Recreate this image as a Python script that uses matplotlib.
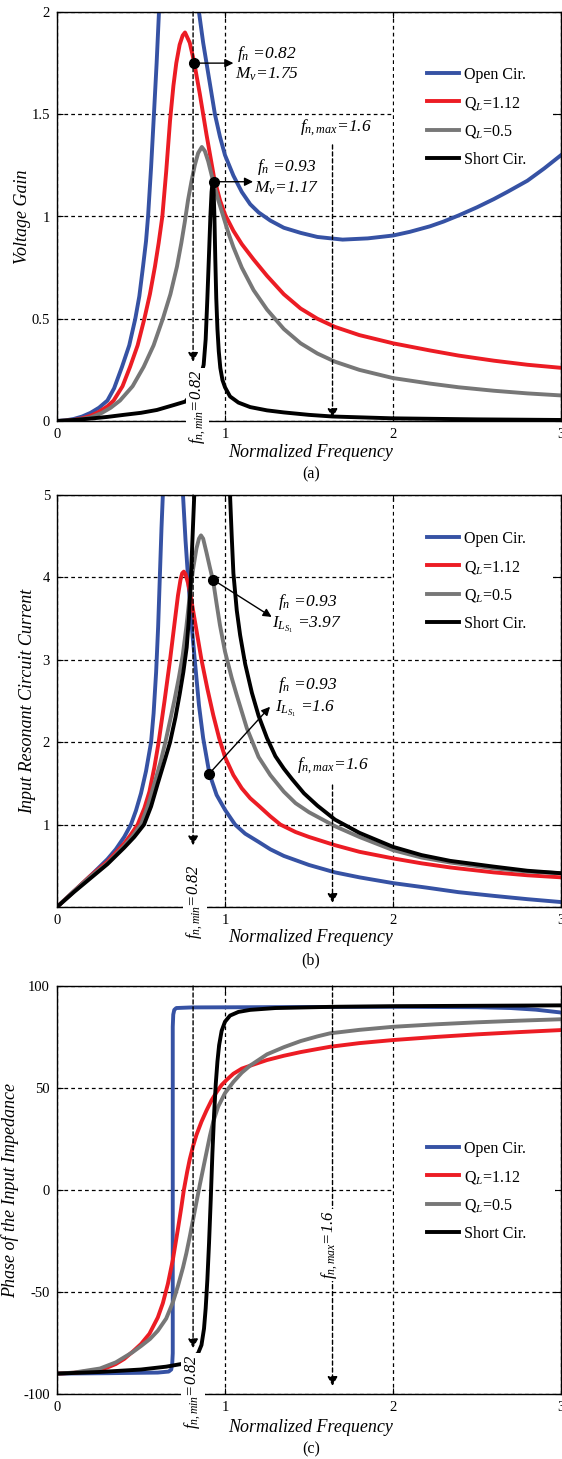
import matplotlib.pyplot as plt
from matplotlib.patches import Rectangle

plt.rcParams['font.family'] = ['Liberation Serif', 'DejaVu Serif']
plt.rcParams['mathtext.fontset'] = 'custom'
plt.rcParams['mathtext.rm'] = 'Liberation Serif'
plt.rcParams['mathtext.it'] = 'Liberation Serif:italic'
plt.rcParams['mathtext.bf'] = 'Liberation Serif:bold'

W, H = 562, 1459

names = ['Open Cir.', 'Q$_L$=1.12', 'Q$_L$=0.5', 'Short Cir.']
colors = ['#3652a4', '#ec1c24', '#777777', '#000000']

# ---------- (a) voltage gain ----------
a_open_f = [0, 0.05, 0.1, 0.15, 0.2, 0.25, 0.3, 0.34, 0.387, 0.43, 0.466, 0.49, 0.512, 0.53, 0.542, 0.56,
            0.577, 0.593, 0.607, 0.62, 0.70,
            0.83, 0.845, 0.87, 0.9, 0.94, 0.97, 1.0, 1.05, 1.1, 1.15, 1.2, 1.27, 1.35, 1.45, 1.55, 1.7, 1.85,
            2.0, 2.1, 2.22, 2.3, 2.39, 2.5, 2.6, 2.68, 2.8, 2.9, 3.0]
a_open_v = [0, 0.003, 0.01, 0.022, 0.04, 0.065, 0.10, 0.16, 0.265, 0.37, 0.5, 0.61, 0.755, 0.88, 1.0, 1.24,
            1.5, 1.75, 2.0, 2.25, 6.0,
            2.3, 2.0, 1.85, 1.7, 1.5, 1.39, 1.30, 1.2, 1.12, 1.06, 1.02, 0.98, 0.945, 0.92, 0.90, 0.887, 0.893,
            0.907, 0.925, 0.952, 0.975, 1.005, 1.045, 1.085, 1.12, 1.175, 1.235, 1.30]
a_q112_f = [0, 0.05, 0.1, 0.15, 0.2, 0.25, 0.3, 0.337, 0.39, 0.435, 0.48, 0.52, 0.553, 0.583, 0.605, 0.627,
            0.65, 0.673, 0.693, 0.71, 0.73, 0.748, 0.762, 0.79, 0.815, 0.85, 0.89, 0.935, 0.97, 1.0, 1.05,
            1.1, 1.17, 1.25, 1.35, 1.45, 1.55, 1.655, 1.8, 2.0, 2.22, 2.39, 2.6, 2.8, 3.0]
a_q112_v = [0, 0.001, 0.005, 0.013, 0.025, 0.045, 0.072, 0.10, 0.17, 0.265, 0.37, 0.5, 0.62, 0.755, 0.87, 1.0,
            1.22, 1.47, 1.64, 1.75, 1.84, 1.885, 1.90, 1.85, 1.76, 1.60, 1.40, 1.19, 1.08, 1.01, 0.93,
            0.865, 0.79, 0.71, 0.62, 0.55, 0.50, 0.46, 0.42, 0.38, 0.345, 0.32, 0.295, 0.275, 0.26]
a_q05_f = [0, 0.1, 0.2, 0.268, 0.32, 0.375, 0.45, 0.516, 0.575, 0.63, 0.675, 0.714, 0.74, 0.76, 0.78, 0.8,
           0.82, 0.84, 0.862, 0.88, 0.9, 0.93, 0.96, 0.99, 1.02, 1.05, 1.1, 1.17, 1.25, 1.35, 1.45, 1.55,
           1.655, 1.8, 2.0, 2.22, 2.39, 2.6, 2.8, 3.0]
a_q05_v = [0, 0.003, 0.017, 0.04, 0.065, 0.10, 0.17, 0.265, 0.37, 0.5, 0.62, 0.755, 0.87, 0.97, 1.08, 1.17,
           1.25, 1.31, 1.34, 1.32, 1.27, 1.17, 1.08, 1.0, 0.92, 0.85, 0.75, 0.64, 0.545, 0.45, 0.38, 0.33,
           0.29, 0.25, 0.21, 0.183, 0.165, 0.148, 0.135, 0.125]
a_short_f = [0, 0.1, 0.2, 0.3, 0.397, 0.5, 0.595, 0.695, 0.764, 0.82, 0.85, 0.873, 0.885, 0.895, 0.905,
             0.913, 0.92, 0.926, 0.932, 0.937, 0.942, 0.948, 0.955, 0.963, 0.972, 0.985, 1.0, 1.03, 1.08,
             1.15, 1.25, 1.35, 1.5, 1.64, 2.0, 2.5, 3.0]
a_short_v = [0, 0.005, 0.012, 0.02, 0.03, 0.04, 0.054, 0.078, 0.095, 0.15, 0.2, 0.275, 0.4, 0.6, 0.82,
             1.0, 1.12, 1.17, 1.13, 1.0, 0.8, 0.6, 0.45, 0.34, 0.26, 0.2, 0.165, 0.12, 0.09,
             0.068, 0.052, 0.042, 0.03, 0.022, 0.013, 0.008, 0.005]
a_dot_f = [0.815, 0.935]
a_dot_v = [1.75, 1.17]

# ---------- (b) input resonant circuit current ----------
b_open_f = [0, 0.1, 0.2, 0.3, 0.35, 0.4, 0.44, 0.47, 0.5, 0.53, 0.56, 0.575, 0.59, 0.602, 0.612, 0.622, 0.63,
            0.69, 0.75, 0.765, 0.78, 0.8, 0.82, 0.845, 0.87, 0.907, 0.95, 1.0, 1.06, 1.12, 1.2, 1.27, 1.35,
            1.5, 1.655, 1.8, 2.0, 2.2, 2.39, 2.6, 2.8, 3.0]
b_open_i = [0, 0.19, 0.38, 0.58, 0.7, 0.85, 1.0, 1.17, 1.38, 1.65, 2.0, 2.35, 2.85, 3.4, 4.0, 4.6, 5.0,
            12.0, 5.0, 4.45, 4.0, 3.45, 3.0, 2.45, 2.05, 1.62, 1.36, 1.18, 1.0, 0.89, 0.79, 0.7, 0.62,
            0.51, 0.42, 0.36, 0.29, 0.235, 0.18, 0.135, 0.095, 0.06]
b_q112_f = [0, 0.1, 0.2, 0.3, 0.4, 0.44, 0.48, 0.52, 0.55, 0.58, 0.605, 0.64, 0.673, 0.7, 0.72, 0.735, 0.745,
            0.755, 0.765, 0.78, 0.795, 0.81, 0.835, 0.86, 0.895, 0.93, 0.965, 1.0, 1.05, 1.1, 1.15, 1.2,
            1.27, 1.33, 1.42, 1.5, 1.655, 1.8, 2.0, 2.17, 2.34, 2.6, 2.8, 3.0]
b_q112_i = [0, 0.19, 0.38, 0.55, 0.77, 0.88, 1.0, 1.2, 1.4, 1.7, 2.0, 2.5, 3.0, 3.45, 3.78, 3.97, 4.05,
            4.07, 4.04, 3.93, 3.78, 3.6, 3.3, 3.0, 2.65, 2.33, 2.05, 1.82, 1.6, 1.44, 1.32, 1.23,
            1.1, 1.0, 0.91, 0.85, 0.75, 0.67, 0.59, 0.53, 0.48, 0.42, 0.385, 0.36]
b_q05_f = [0, 0.1, 0.2, 0.3, 0.4, 0.45, 0.5, 0.54, 0.58, 0.615, 0.645, 0.675, 0.7, 0.725, 0.748, 0.77, 0.79,
           0.81, 0.83, 0.845, 0.857, 0.87, 0.89, 0.91, 0.93, 0.95, 0.97, 1.0, 1.04, 1.07, 1.13, 1.2, 1.27,
           1.35, 1.42, 1.5, 1.655, 1.8, 2.0, 2.17, 2.34, 2.6, 2.8, 3.0]
b_q05_i = [0, 0.19, 0.37, 0.53, 0.74, 0.86, 1.0, 1.22, 1.5, 1.75, 2.0, 2.28, 2.52, 2.78, 3.05, 3.4, 3.78,
           4.1, 4.35, 4.47, 4.51, 4.47, 4.3, 4.12, 3.95, 3.68, 3.42, 3.1, 2.78, 2.57, 2.17, 1.82, 1.6,
           1.4, 1.26, 1.15, 0.98, 0.85, 0.69, 0.6, 0.54, 0.47, 0.43, 0.41]
b_short_f = [0, 0.1, 0.2, 0.3, 0.4, 0.46, 0.518, 0.56, 0.6, 0.64, 0.673, 0.705, 0.73, 0.752, 0.772, 0.785,
             0.795, 0.805, 0.817, 0.93, 1.03, 1.04, 1.05, 1.07, 1.09, 1.12, 1.16, 1.2, 1.25, 1.3, 1.35,
             1.4, 1.47, 1.55, 1.655, 1.8, 2.0, 2.17, 2.34, 2.6, 2.8, 3.0]
b_short_i = [0, 0.18, 0.35, 0.52, 0.72, 0.85, 1.0, 1.22, 1.5, 1.77, 2.0, 2.3, 2.58, 2.85, 3.15, 3.5,
             3.9, 4.4, 5.0, 14.0, 5.0, 4.5, 4.05, 3.6, 3.3, 2.95, 2.6, 2.32, 2.05, 1.83, 1.68,
             1.55, 1.38, 1.23, 1.06, 0.9, 0.73, 0.63, 0.56, 0.49, 0.44, 0.41]
b_dot_f = [0.93, 0.907]
b_dot_i = [3.97, 1.62]

# ---------- (c) phase of the input impedance ----------
c_open_f = [0, 0.3, 0.6, 0.665, 0.68, 0.686, 0.689, 0.689, 0.692, 0.698, 0.71, 0.8, 1.5, 2.0, 2.5, 2.7, 2.85,
            3.0]
c_open_p = [-90, -89.8, -89.5, -89, -88, -85, -80, 80, 86, 88.3, 89.2, 89.5, 89.7, 89.8, 89.6, 89.2, 88.4,
            87]
c_q112_f = [0, 0.1, 0.2, 0.256, 0.3, 0.35, 0.4, 0.454, 0.5, 0.55, 0.6, 0.63, 0.66, 0.69, 0.72, 0.74, 0.755,
            0.775, 0.79, 0.81, 0.83, 0.86, 0.89, 0.92, 0.95, 0.98, 1.01, 1.05, 1.1, 1.17, 1.25, 1.35, 1.45,
            1.55, 1.625, 1.8, 2.0, 2.25, 2.5, 2.75, 3.0]
c_q112_p = [-90, -89.6, -88.7, -88, -87, -85.3, -82.8, -79, -75.5, -70.5, -62.5, -55.5, -46, -34, -19, -8.5,
            0, 9, 15, 21.5, 27, 33.5, 39, 44, 48, 51.5, 54, 57, 59.5, 61.5, 63.7, 65.8, 67.6,
            69.1, 70.2, 72, 73.5, 75, 76.3, 77.4, 78.4]
c_q05_f = [0, 0.1, 0.256, 0.35, 0.45, 0.5, 0.554, 0.6, 0.65, 0.69, 0.72, 0.75, 0.77, 0.79, 0.81, 0.83, 0.85,
           0.87, 0.89, 0.91, 0.93, 0.96, 1.0, 1.05, 1.1, 1.15, 1.25, 1.35, 1.45, 1.55, 1.625, 1.8, 2.0,
           2.25, 2.5, 2.75, 3.0]
c_q05_p = [-90, -89.5, -87.5, -84.5, -79.5, -76.5, -73, -69, -63, -55, -47, -38, -31, -23, -14.5, -6, 2.5,
           10.5, 18.5, 26.5, 33.5, 41, 47.5, 53, 57.5, 61, 66.5, 70, 73, 75.3, 76.8, 78.5, 80,
           81.2, 82.2, 83, 83.7]
c_short_f = [0, 0.256, 0.5, 0.65, 0.74, 0.8, 0.84, 0.86, 0.875, 0.885, 0.895, 0.905, 0.915, 0.925, 0.935,
             0.945, 0.955, 0.965, 0.98, 1.0, 1.03, 1.08, 1.15, 1.3, 1.64, 2.0, 2.5, 3.0]
c_short_p = [-90, -89.2, -88, -86.6, -85.3, -83, -80, -76, -68, -58, -44, -26, -5, 18, 37,
             52, 63, 71, 78, 82.5, 85.5, 87.3, 88.3, 89.2, 89.8, 90.1, 90.3, 90.5]

fn_min = 0.81
fn_max = 1.64

fig = plt.figure(figsize=(W / 100, H / 100), dpi=100)


def make_axes(top, bottom):
    return fig.add_axes([57 / W, 1 - bottom / H, 504 / W, (bottom - top) / H])


def style(ax, ylim, yticks, ylabels):
    ax.set_xlim(0, 3)
    ax.set_ylim(*ylim)
    ax.set_xticks([0, 1, 2, 3])
    ax.set_yticks(yticks)
    ax.set_yticklabels(ylabels)
    ax.tick_params(direction='in', top=True, right=True, length=4, width=0.8, labelsize=10.5, pad=5)
    ax.grid(True, color='k', linestyle=(0, (3, 2.5)), linewidth=0.9)
    for s in ax.spines.values():
        s.set_linewidth(1.0)


def fy(ax, py):
    # pixel row -> axes fraction for this axes
    bb = ax.get_position()
    top = (1 - bb.y1) * H
    bot = (1 - bb.y0) * H
    return (bot - py) / (bot - top)


def fx(px):
    return (px - 57) / 504


def labels(ax, ylab, ylab_x, xlab_py, sub, sub_py):
    ax.text(fx(ylab_x), 0.5, ylab, transform=ax.transAxes, rotation=90, ha='center', va='center',
            fontsize=13, style='italic')
    ax.text(fx(311), fy(ax, xlab_py), 'Normalized Frequency', transform=ax.transAxes, ha='center',
            va='center', fontsize=13, style='italic')
    ax.text(fx(311), fy(ax, sub_py), sub, transform=ax.transAxes, ha='center', va='center', fontsize=11.5)


def legend(ax, box, row1_py):
    x0, y0, x1, y1 = box
    ax.add_patch(Rectangle((fx(x0), fy(ax, y1)), fx(x1) - fx(x0), fy(ax, y0) - fy(ax, y1),
                           transform=ax.transAxes, facecolor='white', edgecolor='none', zorder=1.8))
    leg = ax.legend(loc='upper left', bbox_to_anchor=(fx(427), fy(ax, row1_py - 6)), borderaxespad=0,
                    borderpad=0, frameon=False, fontsize=11.5, handlelength=2.0, handletextpad=0.3,
                    labelspacing=0.72)
    leg.set_zorder(1.9)


def dashed_arrow(ax, x, y_from, y_to):
    ax.annotate('', xy=(x, y_to), xytext=(x, y_from),
                arrowprops=dict(arrowstyle='-|>,head_length=0.55,head_width=0.3', color='k', lw=1.0,
                                linestyle=(0, (3, 2)), shrinkA=0, shrinkB=0), zorder=4)


def solid_arrow(ax, xy, xytext):
    ax.annotate('', xy=xytext, xytext=xy,
                arrowprops=dict(arrowstyle='-|>,head_length=0.5,head_width=0.25', color='k', lw=1.0,
                                shrinkA=0, shrinkB=0), zorder=6)


def rot_label(ax, x, y, s):
    ax.text(x, y, s, rotation=90, ha='center', va='center', fontsize=12, style='italic', zorder=8,
            bbox=dict(facecolor='white', edgecolor='none', pad=1.0))


def note(ax, x, y, s):
    ax.text(x, y, s, ha='left', va='center', fontsize=12.5, style='italic')


# ---------------- (a) ----------------
ax = make_axes(12, 421)
for f, v, c, n in zip([a_open_f, a_q112_f, a_q05_f, a_short_f], [a_open_v, a_q112_v, a_q05_v, a_short_v],
                      colors, names):
    ax.plot(f, v, color=c, lw=2.8, label=n, zorder=2.2)
style(ax, (0, 2), [0, 0.5, 1, 1.5, 2], ['0', '0.5', '1', '1.5', '2'])
ax.plot(a_dot_f, a_dot_v, 'o', color='k', ms=7, zorder=7)
dashed_arrow(ax, fn_min, 2.0, 0.29)
dashed_arrow(ax, fn_max, 1.35, 0.015)
rot_label(ax, 0.835, 0.07, '$f_{n,min}$=0.82')
ax.text(1.66, 1.436, '$f_{n,max}$=1.6', ha='center', va='center', fontsize=12.5, style='italic')
solid_arrow(ax, (a_dot_f[0], a_dot_v[0]), (1.05, a_dot_v[0]))
solid_arrow(ax, (a_dot_f[1], a_dot_v[1]), (1.167, a_dot_v[1]))
note(ax, 1.07, 1.794, '$f_n$ =0.82')
note(ax, 1.06, 1.696, '$M_v$=1.75')
note(ax, 1.19, 1.24, '$f_n$ =0.93')
note(ax, 1.17, 1.14, '$M_v$=1.17')
legend(ax, (394, 40, 553, 178), 73)
labels(ax, 'Voltage Gain', 22, 453, '(a)', 474)

# ---------------- (b) ----------------
ax = make_axes(495, 907)
for f, v, c, n in zip([b_open_f, b_q112_f, b_q05_f, b_short_f], [b_open_i, b_q112_i, b_q05_i, b_short_i],
                      colors, names):
    ax.plot(f, v, color=c, lw=2.8, label=n, zorder=2.2)
style(ax, (0, 5), [0, 1, 2, 3, 4, 5], ['', '1', '2', '3', '4', '5'])
ax.plot(b_dot_f, b_dot_i, 'o', color='k', ms=7, zorder=7)
dashed_arrow(ax, fn_min, 5.0, 0.75)
dashed_arrow(ax, fn_max, 1.48, 0.05)
rot_label(ax, 0.82, 0.07, '$f_{n,min}$=0.82')
ax.text(1.64, 1.72, '$f_{n,max}$=1.6', ha='center', va='center', fontsize=12.5, style='italic')
solid_arrow(ax, (b_dot_f[0], b_dot_i[0]), (1.278, 3.52))
solid_arrow(ax, (b_dot_f[1], b_dot_i[1]), (1.268, 2.43))
note(ax, 1.315, 3.70, '$f_n$ =0.93')
note(ax, 1.28, 3.42, '$I_{L_{S_1}}$ =3.97')
note(ax, 1.315, 2.69, '$f_n$ =0.93')
note(ax, 1.30, 2.41, '$I_{L_{S_1}}$ =1.6')
legend(ax, (394, 505, 553, 645), 537)
labels(ax, 'Input Resonant Circuit Current', 28, 938, '(b)', 960)

# ---------------- (c) ----------------
ax = make_axes(986, 1394)
for f, v, c, n in zip([c_open_f, c_q112_f, c_q05_f, c_short_f], [c_open_p, c_q112_p, c_q05_p, c_short_p],
                      colors, names):
    ax.plot(f, v, color=c, lw=2.8, label=n, zorder=2.2)
style(ax, (-100, 100), [-100, -50, 0, 50, 100], ['-100', '-50', '0', '50', '100'])
dashed_arrow(ax, fn_min, 100, -77.5)
dashed_arrow(ax, fn_max, 100, -96)
rot_label(ax, 0.81, -99, '$f_{n,min}$=0.82')
rot_label(ax, 1.625, -27, '$f_{n,max}$=1.6')
legend(ax, (394, 1120, 555, 1255), 1147)
labels(ax, 'Phase of the Input Impedance', 10, 1427, '(c)', 1449)

fig.savefig('out.png', dpi=100)
